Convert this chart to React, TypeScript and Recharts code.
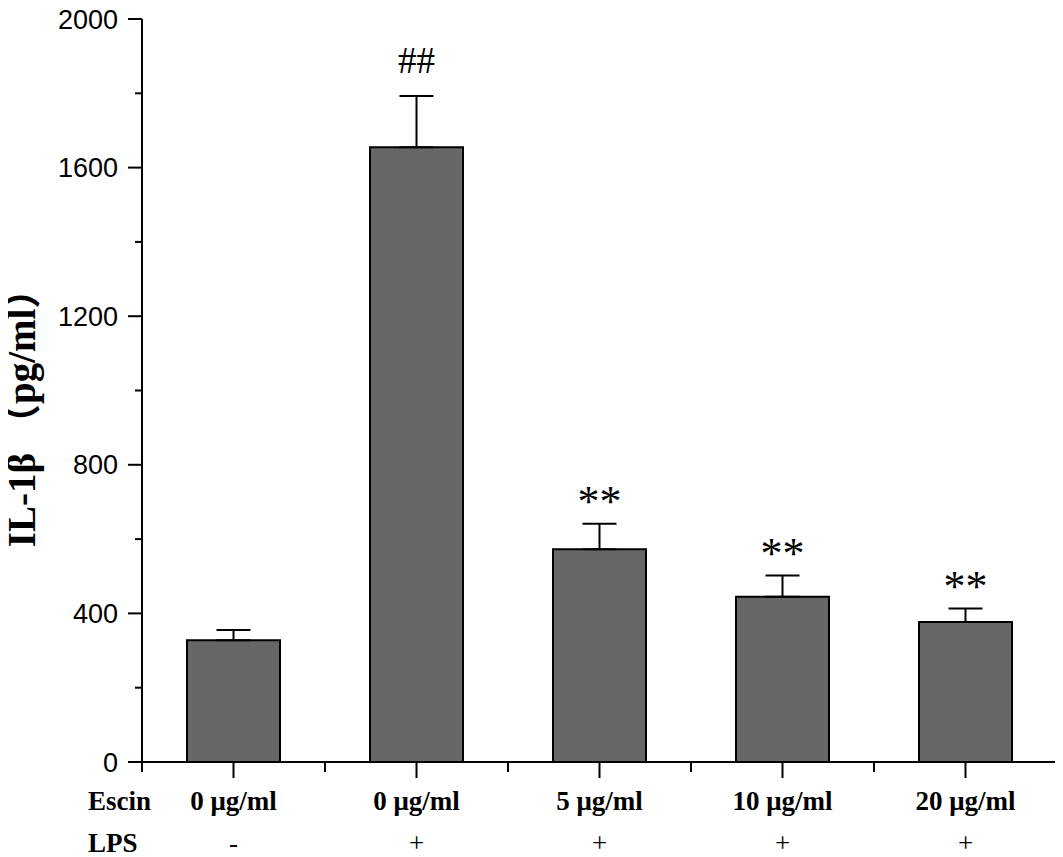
import React from "react";
import { ComposedChart, Bar, Line, XAxis, YAxis, ErrorBar, LabelList } from "recharts";

const escinLabels = ["0 μg/ml", "0 μg/ml", "5 μg/ml", "10 μg/ml", "20 μg/ml"];
const lpsLabels = ["-", "+", "+", "+", "+"];
const means = [328, 1655, 573, 445, 377];
const errors = [27, 138, 68, 57, 36];
const significance = ["", "##", "**", "**", "**"];
const yTicks = [0, 200, 400, 600, 800, 1000, 1200, 1400, 1600, 1800, 2000];
const yMajorTicks = [0, 400, 800, 1200, 1600, 2000];

const data = means.map((m, i) => ({
  group: String(i),
  mean: m,
  err: [0, errors[i]],
  top: m + errors[i],
  sig: significance[i],
}));

const SERIF = "'Times New Roman', 'Liberation Serif', 'Noto Sans CJK SC', serif";
const SANS = "Arial, 'Liberation Sans', sans-serif";

const XTick = (props: any) => {
  const { x, y, payload } = props;
  const idx = payload.index ?? Number(payload.value);
  const half = payload.offset ?? 91.5;
  const isLast = idx === escinLabels.length - 1;
  return (
    <g>
      <line x1={x} y1={y} x2={x} y2={y + 16} stroke="#000" strokeWidth={2} />
      <line x1={x - half} y1={y} x2={x - half} y2={y + 10} stroke="#000" strokeWidth={2} />
      {isLast && <line x1={x + half} y1={y} x2={x + half} y2={y + 10} stroke="#000" strokeWidth={2} />}
      <text x={x} y={y + 48} textAnchor="middle" fontFamily={SERIF} fontWeight="bold" fontSize={27} fill="#000">
        {escinLabels[idx]}
      </text>
      <text x={x} y={y + 90} textAnchor="middle" fontFamily={SERIF} fontSize={27} fill="#000">
        {lpsLabels[idx]}
      </text>
      {idx === 0 && (
        <g>
          <text x={x - half - 54} y={y + 48} textAnchor="start" fontFamily={SERIF} fontWeight="bold" fontSize={27} fill="#000">
            Escin
          </text>
          <text x={x - half - 54} y={y + 90} textAnchor="start" fontFamily={SERIF} fontWeight="bold" fontSize={27} fill="#000">
            LPS
          </text>
        </g>
      )}
    </g>
  );
};

const YTick = (props: any) => {
  const { x, y, payload } = props;
  const major = yMajorTicks.includes(payload.value);
  return (
    <g>
      <line x1={x - (major ? 14 : 7)} y1={y} x2={x} y2={y} stroke="#000" strokeWidth={2} />
      {major && (
        <text x={x - 24} y={y} dy={9.5} textAnchor="end" fontFamily={SANS} fontSize={27} fill="#000">
          {payload.value}
        </text>
      )}
    </g>
  );
};

const YLabel = (props: any) => {
  const vb = props.viewBox || { x: 0, y: 19, width: 142, height: 743 };
  const cx = vb.x + 35;
  const cy = vb.y + vb.height / 2 + 18;
  return (
    <text
      x={cx}
      y={cy}
      transform={`rotate(-90, ${cx}, ${cy})`}
      textAnchor="middle"
      fontFamily={SERIF}
      fontWeight="bold"
      fontSize={39}
      fill="#000"
    >
      IL-1β<tspan dx={10}>（pg/ml）</tspan>
    </text>
  );
};

const SigLabel = (props: any) => {
  const { x, y, value } = props;
  if (!value) return null;
  const isStar = String(value).includes("*");
  return (
    <text
      x={x}
      y={y - (isStar ? 8 : 23)}
      textAnchor="middle"
      fontFamily={SERIF}
      fontSize={isStar ? 44 : 37}
      fill="#000"
    >
      {value}
    </text>
  );
};

export default function App() {
  return (
    <div style={{ width: 1063, height: 857, marginLeft: -8, marginTop: -8 }}>
      <ComposedChart
        width={1063}
        height={857}
        data={data}
        margin={{ top: 19, right: 6, left: 0, bottom: 0 }}
      >
        <XAxis
          dataKey="group"
          height={95}
          axisLine={{ stroke: "#000", strokeWidth: 2 }}
          tickLine={false}
          tickSize={0}
          tickMargin={0}
          interval={0}
          tick={<XTick />}
        />
        <YAxis
          width={142}
          domain={[0, 2000]}
          ticks={yTicks}
          interval={0}
          axisLine={{ stroke: "#000", strokeWidth: 2 }}
          tickLine={false}
          tickSize={0}
          tickMargin={0}
          tick={<YTick />}
          label={<YLabel />}
        />
        <Bar dataKey="mean" barSize={93} fill="#676767" stroke="#000" strokeWidth={2} isAnimationActive={false}>
          <ErrorBar dataKey="err" width={17} stroke="#000" strokeWidth={2} />
        </Bar>
        <Line dataKey="top" stroke="none" dot={false} activeDot={false} isAnimationActive={false}>
          <LabelList dataKey="sig" content={<SigLabel />} />
        </Line>
      </ComposedChart>
    </div>
  );
}
